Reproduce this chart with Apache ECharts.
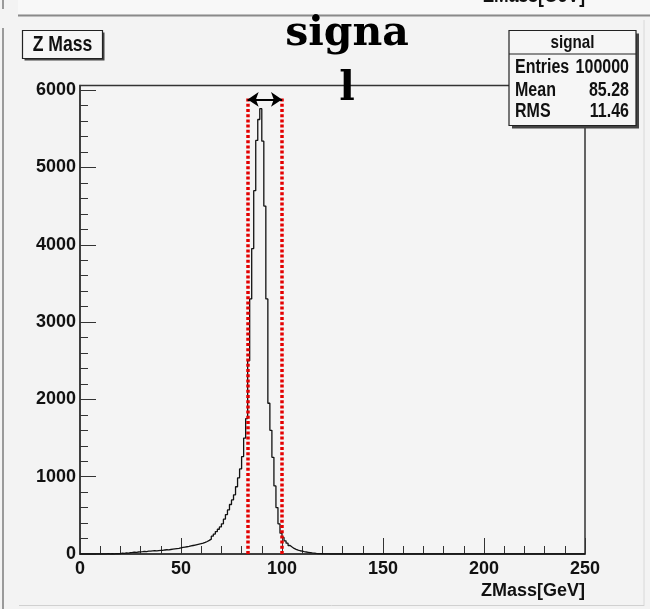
<!DOCTYPE html>
<html>
<head>
<meta charset="utf-8">
<script src="https://cdn.jsdelivr.net/npm/echarts@6/dist/echarts.min.js"></script>
<style>
html,body{margin:0;padding:0;background:#f3f3f3;}
#c{width:650px;height:609px;}
</style>
</head>
<body>
<div id="c"></div>
<script>
// ---- data ----
const binStart = 0, binWidth = 1;           // GeV, 250 bins from 0 to 250
const counts = [
  0,0,0,0,0,0,0,0,0,0, 0,0,0,4,0,3,0,5,3,6,
  10,8,14,12,18,20,24,22,26,28, 30,34,32,36,38,40,42,40,44,46,
  48,52,55,54,58,62,66,70,74,80, 86,90,94,98,104,110,116,122,128,134,
  140,150,162,176,192,230,258,290,320,350, 390,450,510,570,640,700,765,870,985,1100,
  1260,1500,1750,2500,3300,3950,4700,5350,5620,5760, 5340,4500,3300,1950,1600,1250,880,600,390,270,
  215,170,140,110,90,72,60,50,42,36, 30,26,22,18,14,11,8,6,4,3,
  2,1,1,0,1,0,0,0,0,0, 0,0,0,0,0,0,0,0,0,0,
  0,0,0,0,0,0,0,0,0,0, 0,0,0,0,0,0,0,0,0,0,
  0,0,0,0,0,0,0,0,0,0, 0,0,0,0,0,0,0,0,0,0,
  0,0,0,0,0,0,0,0,0,0, 0,0,0,0,0,0,0,0,0,0,
  0,0,0,0,0,0,0,0,0,0, 0,0,0,0,0,0,0,0,0,0,
  0,0,0,0,0,0,0,0,0,0, 0,0,0,0,0,0,0,0,0,0,
  0,0,0,0,0,0,0,0,0,0
];
const xTicks = [0, 50, 100, 150, 200, 250];
const yTicks = [0, 1000, 2000, 3000, 4000, 5000, 6000];
const windowEdges = [83, 100];      // red dotted selection window (GeV)
const windowTop = 5900;
const arrowLevel = 5880;
const statsTitle = 'signal';
const statsNames = ['Entries', 'Mean', 'RMS'];
const statsValues = ['100000', '85.28', '11.46'];
const histTitle = 'Z Mass';
const xTitle = 'ZMass[GeV]';
const bigText = 'signa\nl';

// ---- build ----
const stepData = counts.map((v, i) => [binStart + i * binWidth, v]);
stepData.push([binStart + counts.length * binWidth, counts[counts.length - 1]]);

const FONT = "'Liberation Sans',Arial,sans-serif";
const NARROW = 0.8;
const chart = echarts.init(document.getElementById('c'), null, {renderer: 'canvas'});

const redStyle = {color: '#e30000', width: 3.5, type: [3, 2.2]};
const markData = windowEdges.map(x => [
  {coord: [x, 0], lineStyle: redStyle, symbol: 'none'},
  {coord: [x, windowTop], symbol: 'none'}
]);
markData.push([
  {coord: [windowEdges[0], arrowLevel], symbol: 'arrow', symbolSize: [11, 11],
   lineStyle: {color: '#000', width: 2, type: 'solid'}},
  {coord: [windowEdges[1], arrowLevel], symbol: 'arrow', symbolSize: [11, 11]}
]);

const boxL = 509, boxT = 30.5, boxW = 127, boxH = 95;
const rowY = [67, 90, 111.5];

function ntext(x, y, text, size, align, z) {
  return {type: 'text', x: x, y: y, scaleX: NARROW, z: z || 22,
    style: {text: text, font: 'bold ' + size + 'px ' + FONT, fill: '#111', textAlign: align, textVerticalAlign: 'middle'}};
}

const graphics = [
  // top strip (previous pad edge)
  {type: 'rect', shape: {x: 18, y: 0, width: 632, height: 14}, style: {fill: '#f8f8f8'}, z: 1},
  {type: 'line', shape: {x1: 18, y1: 15.5, x2: 650, y2: 15.5}, style: {stroke: '#8a8a8a', lineWidth: 2}, z: 2},
  ntext(585, -4, xTitle, 22, 'right', 2),
  {type: 'line', shape: {x1: 3, y1: 0, x2: 3, y2: 9}, style: {stroke: '#9a9a9a', lineWidth: 2}, z: 2},
  {type: 'line', shape: {x1: 3, y1: 28, x2: 3, y2: 609}, style: {stroke: '#9a9a9a', lineWidth: 2}, z: 2},
  {type: 'line', shape: {x1: 644, y1: 20, x2: 644, y2: 606}, style: {stroke: '#d8d8d8', lineWidth: 1}, z: 2},
  {type: 'line', shape: {x1: 19, y1: 605.5, x2: 644, y2: 605.5}, style: {stroke: '#d0d0d0', lineWidth: 1}, z: 2},
  // title box
  {type: 'rect', shape: {x: 24.5, y: 32.5, width: 80, height: 28}, style: {fill: '#444'}, z: 20},
  {type: 'rect', shape: {x: 22.5, y: 30.5, width: 80, height: 28}, style: {fill: '#f6f6f6', stroke: '#222', lineWidth: 1.2}, z: 21},
  ntext(62.5, 45, histTitle, 22, 'center'),
  // stats box
  {type: 'rect', shape: {x: boxL + 3, y: boxT + 3, width: boxW, height: boxH}, style: {fill: '#444'}, z: 20},
  {type: 'rect', shape: {x: boxL, y: boxT, width: boxW, height: boxH}, style: {fill: '#f6f6f6', stroke: '#222', lineWidth: 1.2}, z: 21},
  {type: 'line', shape: {x1: boxL, y1: 54, x2: boxL + boxW, y2: 54}, style: {stroke: '#222', lineWidth: 1.2}, z: 22},
  ntext(boxL + boxW / 2, 43, statsTitle, 19, 'center'),
  // big heading text
  {type: 'text', x: 347, y: 7, style: {text: bigText, font: 'bold 41px "DejaVu Serif", serif', fill: '#000', textAlign: 'center', textVerticalAlign: 'top', lineHeight: 55}, z: 30}
];
statsNames.forEach((n, i) => {
  graphics.push(ntext(boxL + 6, rowY[i], n, 20, 'left'));
  graphics.push(ntext(boxL + boxW - 7, rowY[i], statsValues[i], 20, 'right'));
});

const option = {
  animation: false,
  backgroundColor: '#f3f3f3',
  grid: {left: 80, right: 65, top: 85.5, bottom: 55, show: true, borderColor: '#333', borderWidth: 1.5, backgroundColor: '#f4f4f4'},
  xAxis: {
    type: 'value', min: xTicks[0], max: xTicks[xTicks.length - 1], interval: 50,
    name: xTitle, nameLocation: 'end', nameGap: 0,
    nameTextStyle: {fontFamily: FONT, fontWeight: 'bold', fontSize: 18, color: '#111', align: 'right', verticalAlign: 'top', padding: [28, 0, 0, 0]},
    axisLine: {show: true, onZero: false, lineStyle: {color: '#333', width: 1.5}},
    axisTick: {show: true, inside: true, length: 16, lineStyle: {color: '#333', width: 1}},
    minorTick: {show: true, splitNumber: 5, length: 8, lineStyle: {color: '#333', width: 1}},
    axisLabel: {fontFamily: FONT, fontWeight: 'bold', fontSize: 18, color: '#111', margin: 6,
      formatter: v => xTicks.includes(v) ? String(v) : ''},
    splitLine: {show: false}
  },
  yAxis: [{
    type: 'value', min: 0, max: 6060, interval: 1000, position: 'left',
    axisLine: {show: true, onZero: false, lineStyle: {color: '#333', width: 1.5}},
    axisTick: {show: true, inside: true, length: 16, lineStyle: {color: '#333', width: 1}},
    axisLabel: {fontFamily: FONT, fontWeight: 'bold', fontSize: 18, color: '#111', margin: 4,
      formatter: v => yTicks.includes(v) ? String(v) : ''},
    splitLine: {show: false}
  }, {
    type: 'value', min: 0, max: 6060, interval: 200, position: 'left', offset: 0,
    axisLine: {show: false},
    axisTick: {show: true, inside: true, length: 8, lineStyle: {color: '#333', width: 1}},
    axisLabel: {show: false},
    splitLine: {show: false}
  }],
  series: [{
    type: 'line', step: 'end', data: stepData, showSymbol: false, symbol: 'none',
    lineStyle: {color: '#111', width: 1.3}, z: 3,
    markLine: {silent: true, animation: false, label: {show: false}, symbol: 'none', data: markData}
  }],
  graphic: graphics
};
chart.setOption(option);
</script>
</body>
</html>
